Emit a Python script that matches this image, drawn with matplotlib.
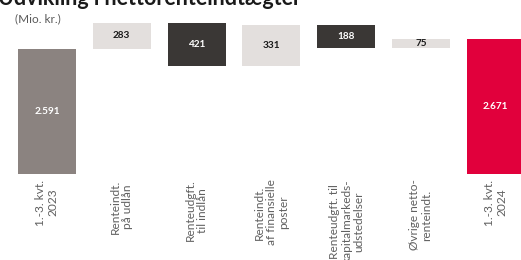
"""Waterfall: udvikling i nettorenteindtaegter, 1.-3. kvt. 2023 -> 2024."""
import matplotlib
matplotlib.use("Agg")
import matplotlib.pyplot as plt

plt.rcParams["font.family"] = ["Lato", "DejaVu Sans"]

labels = [
    "1.-3. kvt.\n2023",
    "Renteindt.\npå udlån",
    "Renteudgft.\ntil indlån",
    "Renteindt.\naf finansielle\nposter",
    "Renteudgft. til\nkapitalmarkeds-\nudstedelser",
    "Øvrige netto-\nrenteindt.",
    "1.-3. kvt.\n2024",
]
start_value = 2591
deltas = [283, -421, 331, -188, 75]
end_value = 2671

C_START = "#8b8380"
C_UP = "#e3dfdd"
C_DOWN = "#3a3735"
C_END = "#e1003c"


def fmt(v):
    return f"{abs(v):,}".replace(",", ".")


def build():
    bottoms, heights, colors, values = [0], [start_value], [C_START], [start_value]
    level = start_value
    for d in deltas:
        bottoms.append(min(level, level + d))
        heights.append(abs(d))
        colors.append(C_UP if d > 0 else C_DOWN)
        values.append(d)
        level += d
    bottoms.append(0)
    heights.append(end_value)
    colors.append(C_END)
    values.append(end_value)

    fig = plt.figure(figsize=(5.21, 2.60), dpi=100)
    ax = fig.add_axes([0, 86 / 260, 1, 151 / 260])
    x = list(range(len(labels)))
    ax.bar(x, heights, bottom=bottoms, width=0.775, color=colors, zorder=2)
    ylo, yhi = 1591, 2799
    ax.set_ylim(ylo, yhi)
    ax.set_xlim(-0.628, 6.337)

    for xi, b, h, c, v in zip(x, bottoms, heights, colors, values):
        lo, hi = max(b, ylo), min(b + h, yhi)
        txt_color = "#1a1a1a" if c == C_UP else "white"
        ax.text(xi, (lo + hi) / 2, fmt(v), ha="center", va="center",
                fontsize=7.2, fontweight="bold", color=txt_color)

    ax.set_xticks(x)
    ax.set_xticklabels(labels, rotation=90, fontsize=8.6, color="#606060",
                       multialignment="center", linespacing=1.12)
    ax.tick_params(axis="x", length=0, pad=4)
    ax.set_yticks([])
    for s in ax.spines.values():
        s.set_visible(False)

    fig.text(-2 / 521, 1 - 5 / 260, "Udvikling i nettorenteindtægter",
             fontsize=15.5, fontweight="bold", color="#1a1a1a", va="baseline")
    fig.text(15 / 521, 1 - 19 / 260, "(Mio. kr.)", fontsize=8.5,
             color="#5a5a5a", va="center")
    fig.savefig("out.png", dpi=100)
    plt.close(fig)


if __name__ == "__main__":
    build()
